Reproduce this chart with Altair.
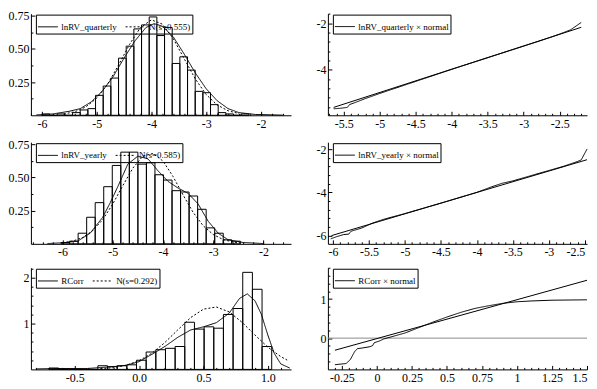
import altair as alt
import pandas as pd

FONT = "Liberation Serif"
W_L, W_R, H = 261, 260, 102

# ---------------- data ----------------
# lnRV_quarterly histogram
q_edges = [-6.00, -5.86, -5.72, -5.58, -5.44, -5.30, -5.16, -5.02, -4.88, -4.74, -4.60, -4.46, -4.32,
           -4.18, -4.04, -3.90, -3.76, -3.62, -3.48, -3.34, -3.20, -3.06, -2.92, -2.78, -2.64,
           -2.50, -2.36, -2.22, -2.08]
q_heights = [0.01, 0.0, 0.01, 0.0, 0.02, 0.04, 0.05, 0.15, 0.22, 0.28, 0.43, 0.52, 0.65, 0.68,
             0.74, 0.60, 0.66, 0.39, 0.44, 0.34, 0.18, 0.17, 0.08, 0.02, 0.01, 0.0, 0.01]
q_kde_x = [-6.1, -5.8, -5.5, -5.3, -5.1, -4.9, -4.7, -4.5, -4.3, -4.1, -3.95, -3.8, -3.6, -3.4,
           -3.2, -3.0, -2.8, -2.6, -2.4, -2.1, -1.6]
q_kde_y = [0.003, 0.01, 0.03, 0.05, 0.10, 0.18, 0.29, 0.43, 0.56, 0.66, 0.69, 0.67, 0.59, 0.46,
           0.32, 0.20, 0.11, 0.05, 0.02, 0.006, 0.001]
q_norm_x = [-5.6, -5.4, -5.2, -5.0, -4.8, -4.6, -4.4, -4.2, -4.0, -3.8, -3.6, -3.4, -3.2, -3.0,
            -2.8, -2.6, -2.4]
q_norm_y = [0.010, 0.026, 0.062, 0.128, 0.234, 0.378, 0.533, 0.660, 0.718, 0.686, 0.576, 0.425,
            0.275, 0.156, 0.078, 0.034, 0.013]

# lnRV_yearly histogram
y_edges = [-6.03, -5.86, -5.69, -5.52, -5.35, -5.18, -5.01, -4.84, -4.67, -4.50, -4.33, -4.16,
           -3.99, -3.82, -3.65, -3.48, -3.31, -3.14, -2.97, -2.80, -2.63, -2.46]
y_heights = [0.01, 0.02, 0.08, 0.20, 0.31, 0.43, 0.59, 0.69, 0.69, 0.60, 0.61, 0.52, 0.48, 0.40,
             0.39, 0.36, 0.26, 0.12, 0.08, 0.03, 0.02]
y_kde_x = [-6.3, -6.0, -5.7, -5.45, -5.2, -5.05, -4.9, -4.7, -4.5, -4.3, -4.1, -3.9, -3.7, -3.5,
           -3.3, -3.1, -2.9, -2.7, -2.4, -2.0]
y_kde_y = [0.002, 0.008, 0.02, 0.08, 0.20, 0.31, 0.43, 0.60, 0.66, 0.64, 0.55, 0.47, 0.42, 0.38,
           0.30, 0.17, 0.08, 0.03, 0.01, 0.002]
y_norm_x = [-6.0, -5.8, -5.6, -5.4, -5.2, -5.0, -4.8, -4.6, -4.4, -4.2, -4.0, -3.8, -3.6, -3.4,
            -3.2, -3.0, -2.8, -2.6, -2.4]
y_norm_y = [0.008, 0.020, 0.048, 0.099, 0.182, 0.300, 0.438, 0.570, 0.660, 0.680, 0.623, 0.507,
            0.368, 0.237, 0.136, 0.070, 0.032, 0.013, 0.005]

# RCorr histogram
r_edges = [-0.70, -0.625, -0.55, -0.475, -0.40, -0.32, -0.245, -0.17, -0.095, -0.02, 0.055, 0.13,
           0.205, 0.28, 0.355, 0.43, 0.505, 0.58, 0.655, 0.73, 0.805, 0.88, 0.955, 1.03]
r_heights = [0.03, 0.0, 0.0, 0.0, 0.0, 0.08, 0.06, 0.08, 0.10, 0.20, 0.38, 0.43, 0.46, 0.50, 1.03,
             0.88, 0.93, 0.90, 1.20, 1.33, 2.12, 1.75, 0.50]
r_kde_x = [-0.8, -0.6, -0.4, -0.3, -0.2, -0.1, 0.0, 0.1, 0.2, 0.3, 0.4, 0.5, 0.6, 0.7, 0.78, 0.84,
           0.9, 0.95, 1.0, 1.05, 1.1, 1.17]
r_kde_y = [0.01, 0.02, 0.02, 0.04, 0.06, 0.09, 0.17, 0.33, 0.50, 0.70, 0.86, 0.93, 1.02, 1.23,
           1.55, 1.65, 1.50, 1.20, 0.75, 0.35, 0.12, 0.03]
r_norm_x = [-0.3, -0.2, -0.1, 0.0, 0.1, 0.2, 0.3, 0.4, 0.5, 0.6, 0.7, 0.8, 0.9, 1.0, 1.1, 1.15]
r_norm_y = [0.015, 0.038, 0.091, 0.190, 0.354, 0.586, 0.862, 1.13, 1.316, 1.363, 1.256, 1.028,
            0.750, 0.486, 0.280, 0.203]

# QQ plots
qq1_ref_x = [-5.64, -2.20]
qq1_ref_y = [-5.62, -2.17]
qq1_x = [-5.64, -5.55, -5.45, -5.42, -5.35, -5.2, -5.0, -4.5, -4.0, -3.5, -3.0, -2.8, -2.6, -2.5,
         -2.45, -2.35, -2.2]
qq1_y = [-5.68, -5.66, -5.62, -5.50, -5.42, -5.24, -5.02, -4.50, -3.98, -3.48, -2.98, -2.78, -2.57,
         -2.46, -2.40, -2.28, -1.96]

qq2_ref_x = [-6.02, -2.47]
qq2_ref_y = [-6.00, -2.49]
qq2_x = [-6.03, -5.95, -5.85, -5.78, -5.75, -5.6, -5.45, -5.3, -5.0, -4.5, -4.0, -3.8, -3.65, -3.5,
         -3.2, -3.0, -2.8, -2.6, -2.55, -2.47]
qq2_y = [-6.15, -6.05, -5.95, -5.93, -5.80, -5.65, -5.42, -5.25, -4.98, -4.50, -4.00, -3.75, -3.58,
         -3.47, -3.18, -2.99, -2.80, -2.57, -2.50, -2.00]

qq3_ref_x = [-0.30, 1.50]
qq3_ref_y = [-0.31, 1.48]
qq3_x = [-0.3, -0.22, -0.19, -0.16, -0.14, -0.1, -0.05, -0.03, -0.02, 0.02, 0.05, 0.1, 0.2, 0.3,
         0.4, 0.5, 0.6, 0.7, 0.8, 0.9, 1.0, 1.1, 1.25, 1.5]
qq3_y = [-0.68, -0.65, -0.55, -0.35, -0.27, -0.25, -0.22, -0.19, -0.12, -0.07, -0.02, 0.03, 0.13,
         0.27, 0.41, 0.54, 0.66, 0.76, 0.83, 0.89, 0.93, 0.95, 0.97, 0.98]


# ---------------- helpers ----------------
def bars_df(edges, heights):
    return pd.DataFrame({"x0": edges[:len(heights)], "x1": edges[1:len(heights) + 1],
                         "h": heights, "b": [0.0] * len(heights)})


def lines_df(series):
    rows = []
    for name, xs, ys in series:
        for i, (a, b) in enumerate(zip(xs, ys)):
            rows.append({"s": name, "x": a, "y": b, "o": i})
    return pd.DataFrame(rows)


def panel(width, xdom, ydom, xlab, ylab, xmin, ymin, xexpr, yexpr,
          lines, dash_domain, dash_range, bars=None, ref=None, zero=False):
    xs = alt.Scale(domain=xdom, nice=False, zero=False)
    ys = alt.Scale(domain=ydom, nice=False, zero=False)
    layers = []
    if zero:
        layers.append(alt.Chart(pd.DataFrame({"z": [0.0]})).mark_rule(
            color="#8a8a8a", strokeWidth=1).encode(y=alt.Y("z:Q", scale=ys, axis=None)))
    if bars is not None:
        layers.append(alt.Chart(bars).mark_rect(
            fill="white", fillOpacity=0, stroke="black", strokeWidth=1).encode(
            x=alt.X("x0:Q", scale=xs, axis=None), x2="x1:Q",
            y=alt.Y("h:Q", scale=ys, axis=None), y2="b:Q"))
    if ref is not None:
        layers.append(alt.Chart(ref).mark_line(color="black", strokeWidth=1).encode(
            x=alt.X("x:Q", scale=xs, axis=None), y=alt.Y("y:Q", scale=ys, axis=None),
            detail="s:N", order="o:Q"))
    legend = alt.Legend(orient="none", legendX=5, legendY=1, direction="horizontal",
                        title=None, strokeColor="black", padding=1.5, labelFont=FONT,
                        labelFontSize=9, labelColor="black", symbolType="stroke",
                        symbolStrokeWidth=1, symbolSize=400, symbolStrokeColor="black",
                        labelLimit=300, columnPadding=6, labelOffset=3)
    layers.append(alt.Chart(lines).mark_line(color="black", strokeWidth=1).encode(
        x=alt.X("x:Q", scale=xs, axis=None), y=alt.Y("y:Q", scale=ys, axis=None),
        strokeDash=alt.StrokeDash("s:N", scale=alt.Scale(domain=dash_domain, range=dash_range),
                                  legend=legend, sort=dash_domain),
        order="o:Q"))
    base = alt.Chart(lines).mark_point(opacity=0, size=0)
    # labelled axes (no ticks)
    layers.append(base.encode(
        x=alt.X("x:Q", scale=xs, axis=alt.Axis(
            orient="bottom", values=xlab, ticks=False, grid=False, title=None, domain=True,
            domainColor="black", domainWidth=1, labelFont=FONT, labelFontSize=12,
            labelColor="black", labelPadding=3, labelExpr=xexpr, labelFlush=3,
            labelOverlap=False)),
        y=alt.Y("y:Q", scale=ys, axis=alt.Axis(
            orient="left", values=ylab, ticks=False, grid=False, title=None, domain=True,
            domainColor="black", domainWidth=1, labelFont=FONT, labelFontSize=12,
            labelColor="black", labelPadding=2, labelExpr=yexpr, labelFlush=False,
            labelOverlap=False))))
    # major ticks pointing inwards
    layers.append(base.encode(
        x=alt.X("x:Q", scale=xs, axis=alt.Axis(
            orient="top", offset=-H, values=xlab, labels=False, domain=False, grid=False,
            title=None, ticks=True, tickSize=4, tickColor="black", tickWidth=1)),
        y=alt.Y("y:Q", scale=ys, axis=alt.Axis(
            orient="right", offset=-width, values=ylab, labels=False, domain=False,
            grid=False, title=None, ticks=True, tickSize=4, tickColor="black",
            tickWidth=1))))
    # minor ticks pointing inwards
    layers.append(base.encode(
        x=alt.X("x:Q", scale=xs, axis=alt.Axis(
            orient="top", offset=-H, values=xmin, labels=False, domain=False, grid=False,
            title=None, ticks=True, tickSize=2, tickColor="black", tickWidth=1)),
        y=alt.Y("y:Q", scale=ys, axis=alt.Axis(
            orient="right", offset=-width, values=ymin, labels=False, domain=False,
            grid=False, title=None, ticks=True, tickSize=2, tickColor="black",
            tickWidth=1))))
    return alt.layer(*layers).resolve_axis(x="independent", y="independent").properties(
        width=width, height=H)


NUM = "'' + datum.value"
F2 = "format(datum.value, '.2f')"
F1 = "replace(format(datum.value, '.1f'), '\u2212', '-')"

solid, dotted = [1, 0], [2, 2]

p1 = panel(W_L, [-6.2, -1.45], [0, 0.765], [-6, -5, -4, -3, -2], [0.25, 0.5, 0.75],
           [-6.2, -6.0, -5.8, -5.6, -5.4, -5.2, -5.0, -4.8, -4.6, -4.4, -4.2, -4.0, -3.8, -3.6,
            -3.4, -3.2, -3.0, -2.8, -2.6, -2.4, -2.2, -2.0, -1.8, -1.6],
           [0.125, 0.375, 0.625], NUM, F2,
           lines_df([("lnRV_quarterly", q_kde_x, q_kde_y), ("N(s=0.555)", q_norm_x, q_norm_y)]),
           ["lnRV_quarterly", "N(s=0.555)"], [solid, dotted], bars=bars_df(q_edges, q_heights))

p2 = panel(W_R, [-5.72, -2.12], [-5.96, -1.58], [-5.5, -5, -4.5, -4, -3.5, -3, -2.5], [-2, -4],
           [-5.7, -5.6, -5.4, -5.3, -5.2, -5.1, -4.9, -4.8, -4.7, -4.6, -4.4, -4.3, -4.2, -4.1,
            -3.9, -3.8, -3.7, -3.6, -3.4, -3.3, -3.2, -3.1, -2.9, -2.8, -2.7, -2.6, -2.4, -2.3,
            -2.2], [-1.6, -2.4, -2.8, -3.2, -3.6, -4.4, -4.8, -5.2, -5.6], NUM, NUM,
           lines_df([("lnRV_quarterly \u00d7 normal", qq1_x, qq1_y)]),
           ["lnRV_quarterly \u00d7 normal"], [solid],
           ref=lines_df([("ref", qq1_ref_x, qq1_ref_y)]))

p3 = panel(W_L, [-6.63, -1.45], [0, 0.765], [-6, -5, -4, -3, -2], [0.25, 0.5, 0.75],
           [-6.6, -6.4, -6.2, -6.0, -5.8, -5.6, -5.4, -5.2, -5.0, -4.8, -4.6, -4.4, -4.2, -4.0,
            -3.8, -3.6, -3.4, -3.2, -3.0, -2.8, -2.6, -2.4, -2.2, -2.0, -1.8, -1.6],
           [0.125, 0.375, 0.625], NUM, F2,
           lines_df([("lnRV_yearly", y_kde_x, y_kde_y), ("N(s=0.585)", y_norm_x, y_norm_y)]),
           ["lnRV_yearly", "N(s=0.585)"], [solid, dotted], bars=bars_df(y_edges, y_heights))

p4 = panel(W_R, [-6.07, -2.47], [-6.38, -1.68], [-6, -5.5, -5, -4.5, -4, -3.5, -3, -2.5],
           [-2, -4, -6],
           [-5.9, -5.8, -5.7, -5.6, -5.4, -5.3, -5.2, -5.1, -4.9, -4.8, -4.7, -4.6, -4.4, -4.3,
            -4.2, -4.1, -3.9, -3.8, -3.7, -3.6, -3.4, -3.3, -3.2, -3.1, -2.9, -2.8, -2.7, -2.6],
           [-2.4, -2.8, -3.2, -3.6, -4.4, -4.8, -5.2, -5.6], NUM, NUM,
           lines_df([("lnRV_yearly \u00d7 normal", qq2_x, qq2_y)]),
           ["lnRV_yearly \u00d7 normal"], [solid],
           ref=lines_df([("ref", qq2_ref_x, qq2_ref_y)]))

p5 = panel(W_L, [-0.84, 1.18], [0, 2.22], [-0.5, 0.0, 0.5, 1.0], [1, 2],
           [-0.8, -0.7, -0.6, -0.4, -0.3, -0.2, -0.1, 0.1, 0.2, 0.3, 0.4, 0.6, 0.7, 0.8, 0.9,
            1.1], [0.2, 0.4, 0.6, 0.8, 1.2, 1.4, 1.6, 1.8, 2.2], F1, NUM,
           lines_df([("RCorr", r_kde_x, r_kde_y), ("N(s=0.292)", r_norm_x, r_norm_y)]),
           ["RCorr", "N(s=0.292)"], [solid, dotted], bars=bars_df(r_edges, r_heights))

p6 = panel(W_R, [-0.35, 1.5], [-0.8, 1.8], [-0.25, 0, 0.25, 0.5, 0.75, 1, 1.25, 1.5], [0, 1],
           [-0.3, -0.2, -0.15, -0.1, -0.05, 0.05, 0.1, 0.15, 0.2, 0.3, 0.35, 0.4, 0.45, 0.55,
            0.6, 0.65, 0.7, 0.8, 0.85, 0.9, 0.95, 1.05, 1.1, 1.15, 1.2, 1.3, 1.35, 1.4, 1.45],
           [-0.6, -0.4, -0.2, 0.2, 0.4, 0.6, 0.8, 1.2, 1.4, 1.6, 1.8], NUM, NUM,
           lines_df([("RCorr \u00d7 normal", qq3_x, qq3_y)]),
           ["RCorr \u00d7 normal"], [solid],
           ref=lines_df([("ref", qq3_ref_x, qq3_ref_y)]), zero=True)

chart = alt.concat(p1, p2, p3, p4, p5, p6, columns=2,
                   spacing={"row": 9, "column": 24}).resolve_scale(
    strokeDash="independent").resolve_legend(strokeDash="independent").properties(
    padding={"left": 0, "top": 1, "right": 0, "bottom": 0}, background="white"
).configure_view(stroke=None)

chart.save("out.html", embed_options={"renderer": "svg", "actions": False})
